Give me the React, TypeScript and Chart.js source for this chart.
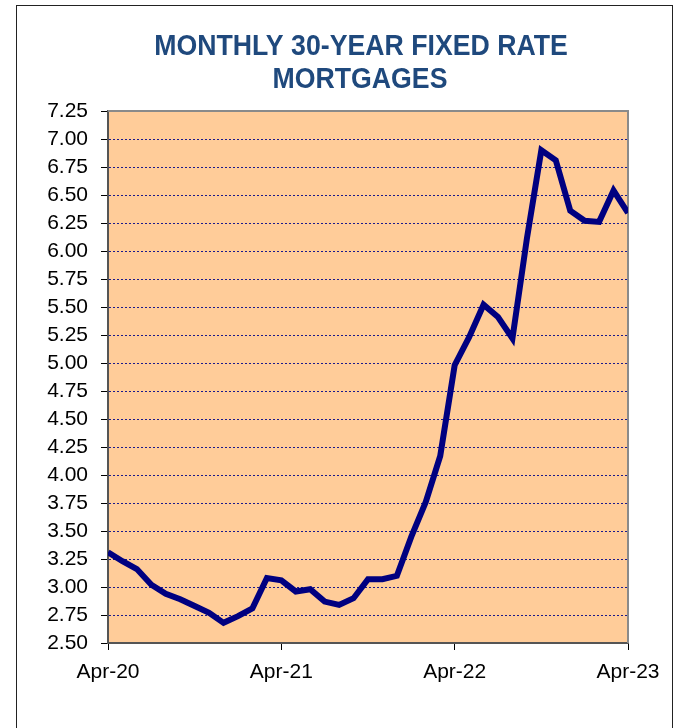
import { useEffect, useRef } from "react";
import { Chart, registerables } from "chart.js";

Chart.register(...registerables);

const titleLines = ["MONTHLY 30-YEAR FIXED RATE", "MORTGAGES"];

const months = [
  "Apr-20", "May-20", "Jun-20", "Jul-20", "Aug-20", "Sep-20", "Oct-20", "Nov-20", "Dec-20",
  "Jan-21", "Feb-21", "Mar-21", "Apr-21", "May-21", "Jun-21", "Jul-21", "Aug-21", "Sep-21",
  "Oct-21", "Nov-21", "Dec-21", "Jan-22", "Feb-22", "Mar-22", "Apr-22", "May-22", "Jun-22",
  "Jul-22", "Aug-22", "Sep-22", "Oct-22", "Nov-22", "Dec-22", "Jan-23", "Feb-23", "Mar-23",
  "Apr-23",
];

const rates = [
  3.31, 3.23, 3.16, 3.02, 2.94, 2.89, 2.83, 2.77, 2.68,
  2.74, 2.81, 3.08, 3.06, 2.96, 2.98, 2.87, 2.84, 2.90,
  3.07, 3.07, 3.10, 3.45, 3.76, 4.17, 4.98, 5.23, 5.52,
  5.41, 5.22, 6.11, 6.90, 6.81, 6.36, 6.27, 6.26, 6.54,
  6.34,
];

const shownXLabels = ["Apr-20", "Apr-21", "Apr-22", "Apr-23"];

const yMin = 2.5;
const yMax = 7.25;
const yStep = 0.25;

const decorPlugin = {
  id: "decor",
  beforeDraw(chart: any) {
    const { ctx, chartArea, width, height } = chart;
    ctx.save();
    ctx.fillStyle = "#ffffff";
    ctx.fillRect(0, 0, width, height);
    // outer frame
    ctx.strokeStyle = "#222222";
    ctx.lineWidth = 1;
    ctx.strokeRect(16.5, 5.5, 656, height + 20);
    // plot background
    ctx.fillStyle = "#FFCC99";
    ctx.fillRect(chartArea.left, chartArea.top, chartArea.right - chartArea.left, chartArea.bottom - chartArea.top);
    ctx.restore();
  },
  beforeDatasetsDraw(chart: any) {
    const { ctx, chartArea } = chart;
    ctx.save();
    ctx.strokeStyle = "#8a8a8a";
    ctx.lineWidth = 2;
    ctx.beginPath();
    ctx.moveTo(chartArea.left, chartArea.top);
    ctx.lineTo(chartArea.right, chartArea.top);
    ctx.lineTo(chartArea.right, chartArea.bottom);
    ctx.stroke();
    ctx.restore();
  },
  afterDraw(chart: any) {
    const { ctx } = chart;
    ctx.save();
    ctx.fillStyle = "#1F497D";
    ctx.font = 'bold 29px "Liberation Sans", Arial, sans-serif';
    ctx.textAlign = "center";
    ctx.textBaseline = "middle";
    const sx = 0.92;
    ctx.scale(sx, 1);
    ctx.fillText(titleLines[0], 361 / sx, 47);
    ctx.fillText(titleLines[1], 360 / sx, 80);
    ctx.restore();
  },
};

export default function App() {
  const ref = useRef<HTMLCanvasElement | null>(null);

  useEffect(() => {
    if (!ref.current) return;
    const chart = new Chart(ref.current, {
      type: "line",
      data: {
        labels: months,
        datasets: [
          {
            data: rates,
            borderColor: "#000080",
            backgroundColor: "#000080",
            borderWidth: 6,
            pointRadius: 0,
            tension: 0,
            clip: 0,
          } as any,
        ],
      },
      options: {
        responsive: false,
        animation: false,
        layout: { padding: { top: 111, left: 0, right: 52, bottom: 40 } },
        plugins: {
          legend: { display: false },
          title: { display: false },
          tooltip: { enabled: false },
        },
        scales: {
          x: {
            type: "category",
            offset: false,
            afterFit: (scale: any) => {
              scale.height = 45;
            },
            grid: {
              display: true,
              drawOnChartArea: false,
              drawTicks: true,
              tickLength: 7,
              tickColor: (c: any) => (shownXLabels.includes(months[c.index]) ? "#000000" : "transparent"),
              color: "transparent",
            } as any,
            border: { display: true, color: "#555555", width: 2 },
            ticks: {
              autoSkip: false,
              maxRotation: 0,
              minRotation: 0,
              padding: 10,
              color: "#000000",
              font: { family: '"Liberation Sans", Arial, sans-serif', size: 21 },
              callback: (_v: any, i: number) => (shownXLabels.includes(months[i]) ? months[i] : ""),
            },
          },
          y: {
            min: yMin,
            max: yMax,
            afterFit: (scale: any) => {
              scale.width = 108;
            },
            grid: {
              display: true,
              drawOnChartArea: true,
              drawTicks: true,
              tickLength: 7,
              tickColor: "#000000",
              tickBorderDash: [],
              lineWidth: 1,
              color: (c: any) =>
                c.tick && (Math.abs(c.tick.value - yMin) < 1e-6 || Math.abs(c.tick.value - yMax) < 1e-6)
                  ? "transparent"
                  : "#1a1a8c",
            } as any,
            border: { display: true, color: "#555555", width: 2, dash: [2, 2] },
            ticks: {
              stepSize: yStep,
              autoSkip: false,
              padding: 13,
              color: "#000000",
              font: { family: '"Liberation Sans", Arial, sans-serif', size: 21 },
              callback: (v: any) => Number(v).toFixed(2),
            },
          },
        },
      },
      plugins: [decorPlugin],
    });
    return () => chart.destroy();
  }, []);

  return (
    <div style={{ position: "absolute", left: 0, top: 0, width: 680, height: 728 }}>
      <canvas ref={ref} width={680} height={728} />
    </div>
  );
}
